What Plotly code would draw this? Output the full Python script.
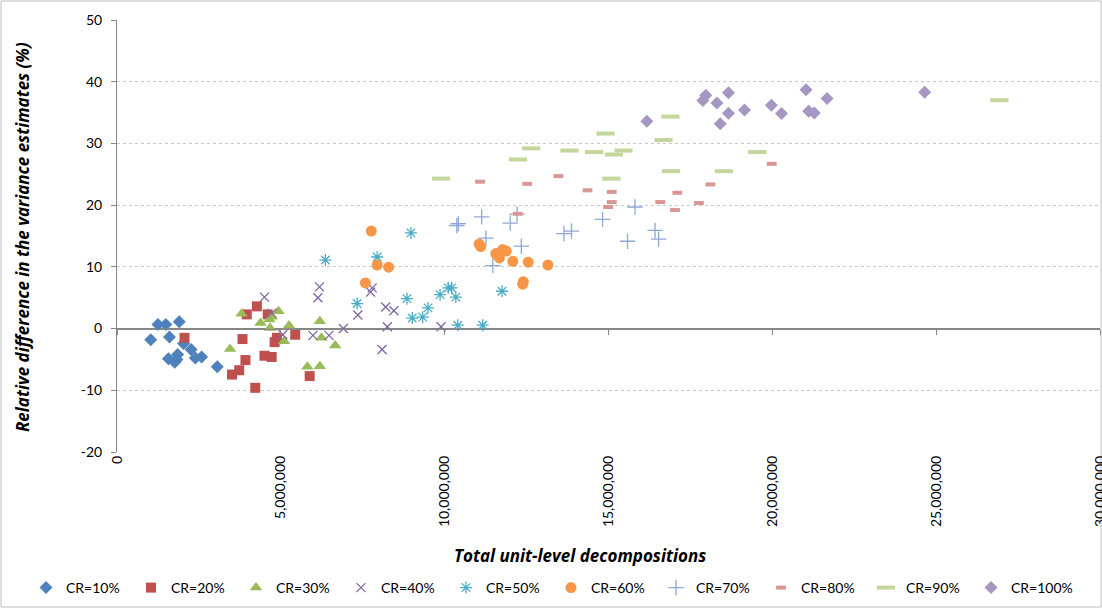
import plotly.graph_objects as go

# ---------------- data (x = total unit-level decompositions, y = relative difference %) ----------------
cr10_x = [1.25e6, 1.49e6, 1.90e6, 1.03e6, 1.60e6, 2.03e6, 2.26e6, 2.39e6, 2.58e6, 1.57e6, 1.85e6, 1.76e6, 1.83e6, 3.06e6]
cr10_y = [0.65, 0.65, 1.1, -1.8, -1.35, -2.4, -3.4, -4.75, -4.6, -4.9, -4.2, -5.45, -5.0, -6.2]

cr20_x = [4.27e6, 3.96e6, 4.60e6, 4.88e6, 4.81e6, 5.44e6, 3.83e6, 4.50e6, 4.72e6, 3.92e6, 3.73e6, 3.51e6, 4.22e6, 5.88e6, 2.06e6]
cr20_y = [3.6, 2.3, 2.3, -1.5, -2.2, -1.0, -1.7, -4.4, -4.6, -5.1, -6.75, -7.45, -9.6, -7.7, -1.5]

cr30_x = [3.80e6, 3.45e6, 4.38e6, 4.65e6, 4.93e6, 4.67e6, 5.25e6, 5.10e6, 6.19e6, 6.24e6, 6.66e6, 5.81e6, 6.19e6, 4.72e6]
cr30_y = [2.4, -3.3, 0.9, 1.45, 2.8, 0.1, 0.5, -2.05, 1.2, -1.5, -2.75, -6.2, -6.1, 1.9]

cr40_x = [4.50e6, 4.73e6, 5.06e6, 6.18e6, 6.13e6, 5.98e6, 6.47e6, 6.91e6, 7.79e6, 7.74e6, 7.35e6, 8.20e6, 8.45e6, 8.25e6, 8.09e6, 9.89e6]
cr40_y = [5.1, 2.5, -1.0, 6.75, 5.0, -1.1, -1.1, 0.0, 6.6, 5.9, 2.2, 3.5, 2.9, 0.3, -3.4, 0.3]

cr50_x = [8.97e6, 7.94e6, 7.33e6, 8.85e6, 9.01e6, 9.33e6, 9.49e6, 9.86e6, 10.11e6, 10.21e6, 10.34e6, 10.40e6, 11.16e6, 6.36e6, 11.75e6]
cr50_y = [15.5, 11.6, 4.05, 4.85, 1.7, 1.85, 3.35, 5.5, 6.6, 6.6, 5.1, 0.55, 0.55, 11.1, 6.05]

cr60_x = [7.76e6, 7.94e6, 8.29e6, 7.58e6, 11.05e6, 11.10e6, 11.56e6, 11.77e6, 11.88e6, 11.67e6, 12.08e6, 12.55e6, 13.15e6, 12.40e6, 12.38e6]
cr60_y = [15.8, 10.3, 9.95, 7.4, 13.7, 13.3, 12.15, 12.8, 12.55, 11.45, 10.9, 10.75, 10.3, 7.6, 7.2]

cr70_x = [11.13e6, 11.26e6, 12.00e6, 12.21e6, 12.34e6, 11.47e6, 13.64e6, 13.87e6, 14.82e6, 15.81e6, 15.58e6, 10.42e6, 10.37e6, 16.42e6, 16.53e6]
cr70_y = [18.1, 14.65, 17.1, 18.55, 13.35, 10.2, 15.4, 15.8, 17.7, 19.7, 14.15, 17.0, 16.7, 15.9, 14.5]

cr80_x = [11.08e6, 12.52e6, 13.47e6, 14.36e6, 15.10e6, 15.10e6, 14.99e6, 12.23e6, 16.58e6, 17.10e6, 17.03e6, 17.76e6, 18.11e6, 19.98e6]
cr80_y = [23.8, 23.45, 24.7, 22.4, 22.15, 20.5, 19.7, 18.6, 20.5, 22.0, 19.2, 20.35, 23.35, 26.7]

cr90_x = [9.89e6, 12.24e6, 12.64e6, 13.81e6, 14.56e6, 15.17e6, 15.46e6, 15.09e6, 16.91e6, 18.52e6, 19.54e6, 16.89e6, 16.68e6, 26.93e6, 14.91e6]
cr90_y = [24.3, 27.4, 29.2, 28.85, 28.6, 28.2, 28.85, 24.3, 25.5, 25.5, 28.6, 34.35, 30.55, 37.0, 31.6]

cr100_x = [16.17e6, 17.88e6, 17.97e6, 18.66e6, 18.31e6, 18.66e6, 18.41e6, 19.15e6, 19.97e6, 20.28e6, 21.03e6, 21.11e6, 21.28e6, 21.67e6, 24.65e6]
cr100_y = [33.6, 36.95, 37.8, 38.2, 36.55, 34.9, 33.2, 35.4, 36.2, 34.85, 38.7, 35.2, 34.95, 37.3, 38.3]

x_ticks = [0, 5e6, 10e6, 15e6, 20e6, 25e6, 30e6]
y_ticks = [-20, -10, 0, 10, 20, 30, 40, 50]
y_tick_text = ["-20", "-10", "0", "10", "20", "30", "40", "50"]

# ---------------- styling ----------------
FONT = "Lato, 'Liberation Sans', Arial, sans-serif"
TITLE_FONT = "'Open Sans', Lato, sans-serif"
AXIS_GRAY = "#868686"

series = [
    ("CR=10%", cr10_x, cr10_y, dict(symbol="diamond", size=10, color="#4F81BD")),
    ("CR=20%", cr20_x, cr20_y, dict(symbol="square", size=10, color="#C0504D")),
    ("CR=30%", cr30_x, cr30_y, dict(symbol="triangle-up", size=11, color="#9BBB59")),
    ("CR=40%", cr40_x, cr40_y, dict(symbol="x-thin", size=9, color="#8064A2",
                                      line=dict(color="#8064A2", width=1.3))),
    ("CR=50%", cr50_x, cr50_y, dict(symbol="asterisk", size=10, color="#4BACC6",
                                      line=dict(color="#4BACC6", width=1.3))),
    ("CR=60%", cr60_x, cr60_y, dict(symbol="circle", size=11, color="#F79646")),
    ("CR=70%", cr70_x, cr70_y, dict(symbol="cross-thin", size=11, color="#8DA7D6",
                                      line=dict(color="#8DA7D6", width=1.3))),
    ("CR=80%", cr80_x, cr80_y, dict(symbol="line-ew", size=7, color="#D99694",
                                      line=dict(color="#D99694", width=4))),
    ("CR=90%", cr90_x, cr90_y, dict(symbol="line-ew", size=13, color="#C3D69B",
                                      line=dict(color="#C3D69B", width=4))),
    ("CR=100%", cr100_x, cr100_y, dict(symbol="diamond", size=10, color="#A597C2")),
]

fig = go.Figure()
for name, xs, ys, mk in series:
    fig.add_trace(go.Scatter(x=xs, y=ys, mode="markers", name=name, marker=mk,
                             hoverinfo="x+y+name"))

# helper trace so the axis crossing at y = 0 (with its tick marks) is drawn
fig.add_trace(go.Scatter(x=[], y=[], xaxis="x2", showlegend=False, hoverinfo="skip"))

W, H = 1102, 608
L, R, T, B = 117, 2, 20, 156
pw, ph = W - L - R, H - T - B

def px_x(p):
    return (p - L) / pw

def px_y(p):
    return (H - B - p) / ph

fig.update_layout(
    width=W, height=H,
    margin=dict(l=L, r=R, t=T, b=B, autoexpand=False),
    paper_bgcolor="white", plot_bgcolor="white",
    font=dict(family=FONT, size=13, color="#000000"),
    showlegend=True,
    legend=dict(orientation="h", x=px_x(26), xanchor="left", y=px_y(588), yanchor="middle",
                entrywidth=60, entrywidthmode="pixels", font=dict(size=14, family=FONT),
                itemwidth=30, tracegroupgap=0, bgcolor="rgba(0,0,0,0)"),
    xaxis=dict(range=[0, 30e6], tickvals=x_ticks, tickformat=",", tickangle=-90,
               showgrid=False, zeroline=False, showline=False, ticks="",
               automargin=False, ticklabeloverflow="allow",
               tickfont=dict(size=14, family=FONT)),
    xaxis2=dict(overlaying="x", matches="x", anchor="free",
                position=(0 - y_ticks[0]) / (y_ticks[-1] - y_ticks[0]),
                showline=True, linecolor=AXIS_GRAY, linewidth=1,
                ticks="outside", ticklen=5, tickcolor=AXIS_GRAY, tickvals=x_ticks,
                showticklabels=False, showgrid=False, zeroline=False, automargin=False),
    yaxis=dict(range=[y_ticks[0], y_ticks[-1]], tickvals=y_ticks, ticktext=y_tick_text,
               showgrid=True, gridcolor="#C8C8C8", griddash="dot", gridwidth=1,
               zeroline=True, zerolinecolor=AXIS_GRAY, zerolinewidth=1,
               showline=True, linecolor=AXIS_GRAY, linewidth=1,
               ticks="outside", ticklen=5, tickcolor=AXIS_GRAY,
               ticklabelstandoff=6, automargin=False,
               tickfont=dict(size=14, family=FONT)),
    annotations=[
        dict(text="<b><i>Total unit-level decompositions</i></b>", xref="paper", yref="paper",
             x=px_x(580), y=px_y(555), showarrow=False, xanchor="center", yanchor="middle",
             font=dict(size=17, family=TITLE_FONT)),
        dict(text="<b><i>Relative difference in the variance estimates (%)</i></b>",
             xref="paper", yref="paper", x=px_x(22), y=px_y(237), showarrow=False,
             textangle=-90, xanchor="center", yanchor="middle",
             font=dict(size=17, family=TITLE_FONT)),
    ],
    shapes=[
        dict(type="rect", xref="paper", yref="paper",
             x0=px_x(1), x1=px_x(1101), y0=px_y(607), y1=px_y(1),
             line=dict(color="#BFBFBF", width=1), fillcolor="rgba(0,0,0,0)", layer="below"),
    ],
)

fig.write_html("out.html",
               config={"displayModeBar": False},
               post_script="document.body.style.margin='0';document.body.style.overflow='hidden';")
